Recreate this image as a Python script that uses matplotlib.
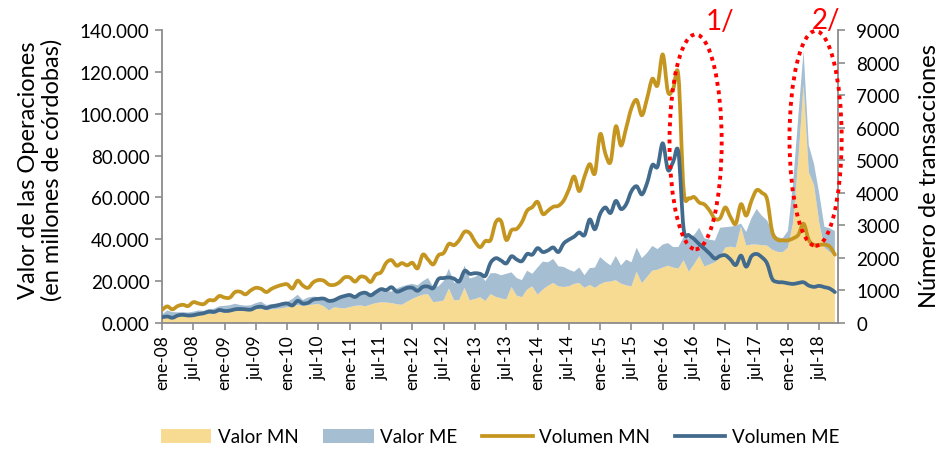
import numpy as np
import pandas as pd
import matplotlib
matplotlib.use("Agg")
from matplotlib import pyplot as plt
from matplotlib.patches import Ellipse, PathPatch
from matplotlib.path import Path
from matplotlib.lines import Line2D
from matplotlib.ticker import FuncFormatter, MultipleLocator

plt.rcParams["font.family"] = ["Lato", "DejaVu Sans"]

valor_mn_color = "#F8DB93"
valor_me_color = "#A5BED2"
vol_mn_color = "#C5961F"
vol_me_color = "#416A8C"
axis_color = "#8C8C8C"

# meses: ene-08 .. oct-18
meses = pd.date_range("2008-01-01", periods=130, freq="MS")
nombres_mes = ["ene", "feb", "mar", "abr", "may", "jun",
               "jul", "ago", "sep", "oct", "nov", "dic"]

# valor de las operaciones (miles de millones de cordobas)
valor_mn = [
    3.0, 3.5, 3.3, 3.6, 3.5, 3.8, 4.2, 4.3, 4.0, 4.4, 4.6, 5.1,
    5.3, 5.6, 5.9, 5.8, 5.9, 6.2, 6.6, 6.7, 6.2, 6.5, 6.8, 7.0,
    7.5, 8.0, 8.6, 8.1, 8.5, 8.8, 9.1, 8.0, 6.0, 7.5, 7.2, 7.0,
    7.6, 8.2, 8.4, 8.0, 8.8, 9.5, 9.9, 9.8, 9.5, 9.0, 8.7, 10.2,
    11.5, 12.6, 13.5, 13.8, 10.0, 10.2, 10.8, 16.5, 10.8, 11.0, 16.8, 10.8,
    11.5, 12.3, 10.5, 13.8, 12.5, 11.8, 11.2, 17.2, 13.1, 12.3, 16.0, 17.5,
    13.5, 15.9, 17.8, 19.1, 17.5, 17.2, 17.5, 18.7, 19.1, 16.8, 18.2, 16.8,
    18.5, 19.6, 19.8, 20.5, 18.8, 18.0, 17.5, 24.5, 19.0, 22.0, 25.0, 25.5,
    26.5, 27.4, 26.5, 26.0, 30.0, 24.5, 28.0, 32.0, 27.0, 28.0, 29.0, 31.5,
    36.0, 36.5, 36.0, 46.0, 37.0, 37.5, 37.5, 37.2, 37.0, 35.0, 34.0, 33.8,
    36.0, 48.0, 78.0, 114.0, 72.0, 66.0, 48.0, 36.0, 34.0, 32.0,
]
valor_me = [
    1.0, 2.5, 1.9, 1.5, 1.7, 1.2, 1.2, 1.7, 1.8, 2.3, 2.2, 2.9,
    2.9, 2.9, 3.3, 2.8, 2.4, 2.3, 2.9, 3.5, 2.4, 2.5, 2.5, 2.6,
    2.5, 3.5, 4.9, 2.9, 3.7, 3.8, 3.3, 4.0, 4.5, 4.0, 5.1, 5.5,
    5.4, 5.0, 5.2, 6.0, 5.4, 5.5, 5.6, 5.4, 5.5, 7.5, 8.8, 8.0,
    7.2, 5.4, 6.5, 7.7, 7.2, 7.3, 9.2, 9.5, 8.4, 8.5, 10.7, 10.5,
    10.5, 11.1, 9.5, 10.0, 11.3, 11.0, 12.3, 7.0, 8.4, 8.2, 9.0, 6.0,
    13.0, 13.4, 11.2, 11.5, 9.6, 9.6, 8.0, 5.8, 7.4, 6.0, 8.0, 9.7,
    13.0, 9.7, 7.7, 11.5, 8.7, 12.3, 11.5, 11.5, 12.0, 11.5, 11.8, 9.8,
    11.0, 10.8, 9.8, 10.3, 11.0, 16.0, 14.0, 13.5, 13.5, 11.8, 10.4, 14.0,
    9.8, 9.5, 10.5, 1.5, 6.5, 12.5, 17.0, 14.1, 12.0, 9.0, 7.0, 6.7,
    8.0, 19.0, 21.0, 16.0, 13.0, 10.0, 14.0, 10.0, 11.3, 12.0,
]

# numero de transacciones
volumen_mn = [
    400, 510, 420, 520, 560, 520, 640, 600, 580, 700, 700, 830,
    780, 780, 950, 960, 880, 1000, 1080, 1050, 950, 1050, 1120, 1170,
    1190, 1060, 1300, 1150, 1080, 1250, 1320, 1300, 1180, 1170, 1250, 1400,
    1400, 1270, 1420, 1400, 1260, 1490, 1560, 1850, 1930, 1760, 1840, 1770,
    1850, 1680, 2100, 1950, 1800, 2080, 2150, 2430, 2390, 2550, 2800, 2760,
    2500, 2330, 2520, 2550, 3100, 3130, 2550, 2850, 2890, 3100, 3450, 3560,
    3720, 3350, 3450, 3570, 3600, 3760, 4100, 4500, 4050, 4500, 4880, 4600,
    5800, 5200, 4950, 6040, 5450, 6000, 6600, 6850, 6380, 6900, 7500, 7300,
    8250, 7100, 7200, 7600, 4100, 3830, 3870, 3700, 3640, 3450, 3200, 3220,
    3550, 3250, 3050, 3650, 3300, 3750, 4080, 4000, 3800, 2800, 2560, 2540,
    2540, 2600, 2710, 3050, 2550, 2400, 2400, 2410, 2350, 2100,
]
volumen_me = [
    175, 200, 160, 230, 250, 230, 240, 275, 300, 350, 340, 400,
    370, 380, 420, 430, 420, 410, 480, 500, 460, 510, 535, 580,
    600, 540, 680, 600, 620, 720, 740, 750, 680, 700, 780, 830,
    860, 800, 900, 930, 850, 950, 1040, 1010, 1100, 965, 1010, 1080,
    1080, 990, 1110, 1120, 1070, 1350, 1380, 1400, 1360, 1280, 1600, 1510,
    1530, 1510, 1450, 1850, 1990, 1920, 1830, 2050, 1950, 1900, 2120, 2100,
    2300, 2180, 2230, 2320, 2180, 2440, 2560, 2650, 2780, 2700, 3180, 2880,
    3350, 3550, 3380, 3750, 3500, 3650, 4050, 4200, 3950, 4300, 4850, 4800,
    5520, 4700, 4950, 5250, 2900, 2700, 2580, 2420, 2280, 2130, 1980, 2060,
    2080, 1950, 1780, 2070, 1730, 2050, 2120, 2020, 1830, 1350, 1260, 1250,
    1220, 1200, 1230, 1250, 1150, 1110, 1140, 1100, 1060, 950,
]


def smooth_path(xs, ys):
    # linea suavizada tipo Excel: curvas Bezier por los puntos
    p = np.column_stack([xs, ys]).astype(float)
    verts = [p[0]]
    codes = [Path.MOVETO]
    n = len(p)
    for i in range(n - 1):
        p0 = p[max(i - 1, 0)]
        p3 = p[min(i + 2, n - 1)]
        c1 = p[i] + (p[i + 1] - p0) / 6
        c2 = p[i + 1] - (p3 - p[i]) / 6
        verts += [c1, c2, p[i + 1]]
        codes += [Path.CURVE4] * 3
    return Path(verts, codes)


x = np.arange(len(meses))
mn = np.array(valor_mn) * 1000  # millones de cordobas
me = np.array(valor_me) * 1000

fig = plt.figure(figsize=(9.43, 4.52), dpi=100)
ax = fig.add_axes([162 / 943, 1 - 324 / 452, 676 / 943, 293 / 452])
ax2 = ax.twinx()

areas = ax.stackplot(x, mn, me, colors=[valor_mn_color, valor_me_color], linewidth=0)
for serie, col in [(volumen_mn, vol_mn_color), (volumen_me, vol_me_color)]:
    ax2.add_patch(PathPatch(smooth_path(x, serie), fill=False, edgecolor=col,
                            lw=2.7, joinstyle="round", capstyle="round"))

ax.set_xlim(0, 129.6)
ax.set_ylim(0, 140000)
ax2.set_ylim(0, 9000)
ax.yaxis.set_major_locator(MultipleLocator(20000))
ax.yaxis.set_major_formatter(FuncFormatter(lambda v, p: f"{v / 1000:.3f}"))
ax2.yaxis.set_major_locator(MultipleLocator(1000))

ticks = list(range(0, len(meses), 6))
ax.set_xticks(ticks)
ax.set_xticklabels([f"{nombres_mes[meses[i].month - 1]}-{meses[i]:%y}" for i in ticks],
                   rotation=90, fontsize=12.5)

for a in (ax, ax2):
    for s in a.spines.values():
        s.set_color(axis_color)
        s.set_linewidth(1.3)
    a.spines["top"].set_visible(False)
    a.tick_params(colors=axis_color, labelcolor="black", length=5, width=1.2)
ax.spines["right"].set_visible(False)
ax2.spines["left"].set_visible(False)
ax2.spines["bottom"].set_visible(False)
ax.tick_params(axis="y", labelsize=13.5, pad=4)
ax2.tick_params(axis="y", labelsize=13.5, pad=8)
ax.tick_params(axis="x", pad=3)

fig.text(40 / 943, 1 - 170 / 452, "Valor de las Operaciones\n(en millones de córdobas)",
         rotation=90, ha="center", va="center", fontsize=17, linespacing=1.1)
fig.text(929 / 943, 1 - 176 / 452, "Número de transacciones",
         rotation=90, ha="center", va="center", fontsize=17)

# elipses rojas de los periodos senalados
for cx, cy in [(102.3, 5565), (125.3, 5670)]:
    e = Ellipse((cx, cy), 10.0, 6600, fill=False, edgecolor="red",
                linestyle=(0, (1, 1.2)), lw=2.8, clip_on=False, zorder=5)
    ax2.add_patch(e)
fig.text(720 / 943, 1 - 22 / 452, "1/", color="red", fontsize=20, ha="center", va="center")
fig.text(826 / 943, 1 - 21 / 452, "2/", color="red", fontsize=20, ha="center", va="center")

handles = [areas[0], areas[1],
           Line2D([], [], color=vol_mn_color, lw=2.7),
           Line2D([], [], color=vol_me_color, lw=2.7)]
fig.legend(handles, ["Valor MN", "Valor ME", "Volumen MN", "Volumen ME"],
           loc="center", bbox_to_anchor=(500 / 943, 1 - 438 / 452), ncol=4, frameon=False,
           fontsize=13.5, handlelength=2.7, handleheight=0.75, columnspacing=1.3,
           handletextpad=0.35)

fig.savefig("out.png", dpi=100)
